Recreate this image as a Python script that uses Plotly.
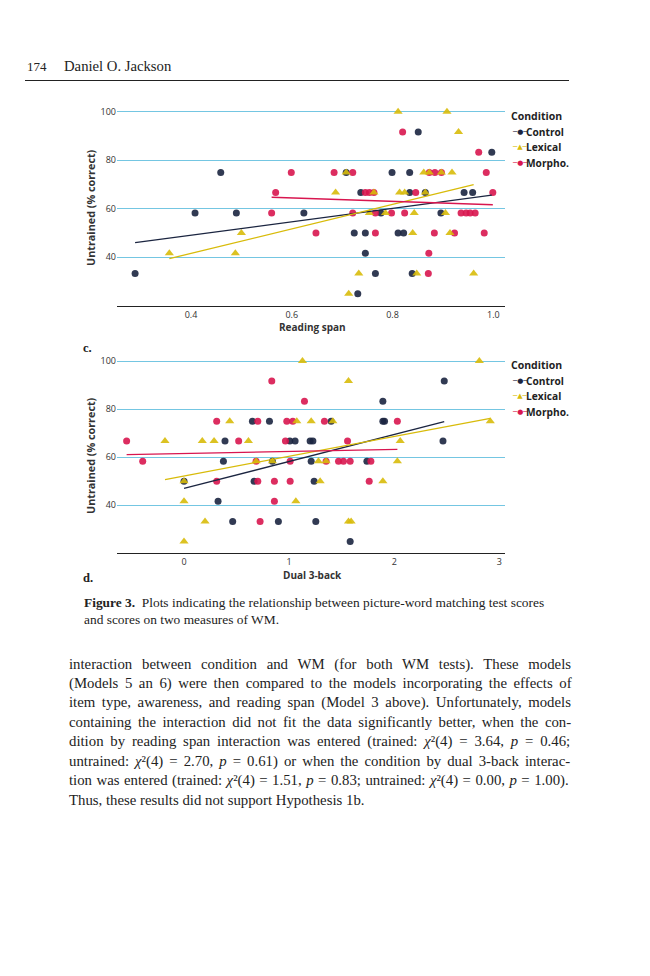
import numpy as np
import plotly.graph_objects as go

# browser adds an 8px body margin; figure is sized/offset to compensate
OFF = 8
W, H = 634, 960

# ---------------- data: panel c (Reading span) ----------------
c_control_x = [0.289, 0.408, 0.459, 0.490, 0.624, 0.708, 0.799, 0.834, 0.851, 0.997, 0.737, 0.834, 0.865,
               0.942, 0.959, 0.777, 0.896, 0.724, 0.746, 0.811, 0.822, 0.746, 0.766, 0.839, 0.731]
c_control_y = [33.3, 58.3, 75, 58.3, 58.3, 75, 75, 75, 91.7, 83.3, 66.7, 66.7, 66.7,
               66.7, 66.7, 58.3, 58.3, 50, 50, 50, 50, 41.7, 33.3, 33.3, 25]
c_lexical_x = [0.357, 0.488, 0.500, 0.811, 0.908, 0.931, 0.708, 0.862, 0.873, 0.897, 0.918, 0.687, 0.763,
               0.814, 0.824, 0.865, 0.754, 0.786, 0.843, 0.905, 0.840, 0.914, 0.733, 0.848, 0.961, 0.713]
c_lexical_y = [41.7, 41.7, 50, 100, 100, 91.7, 75, 75, 75, 75, 75, 66.7, 66.7,
               66.7, 66.7, 66.7, 58.3, 58.3, 58.3, 58.3, 50, 50, 33.3, 33.3, 33.3, 25]
c_morpho_x = [0.560, 0.568, 0.599, 0.820, 0.971, 0.684, 0.721, 0.873, 0.884, 0.897, 0.986, 0.746, 0.754,
              0.763, 0.846, 0.999, 0.721, 0.766, 0.798, 0.824, 0.936, 0.946, 0.954, 0.964, 0.648, 0.766,
              0.883, 0.923, 0.982, 0.872, 0.871]
c_morpho_y = [58.3, 66.7, 75, 91.7, 83.3, 75, 75, 75, 75, 75, 75, 66.7, 66.7,
              66.7, 66.7, 66.7, 58.3, 58.3, 58.3, 58.3, 58.3, 58.3, 58.3, 58.3, 50, 50,
              50, 50, 50, 41.7, 33.3]

# ---------------- data: panel d (Dual 3-back) ----------------
d_control_x = [0.0, 0.39, 0.375, 0.324, 0.463, 0.651, 0.813, 0.667, 0.841, 0.898, 1.007, 1.057, 1.20,
               1.226, 1.21, 1.238, 1.254, 1.40, 1.581, 1.74, 1.892, 1.892, 1.908, 2.476, 2.464]
d_control_y = [50, 66.7, 58.3, 41.7, 33.3, 75, 75, 50, 58.3, 33.3, 66.7, 66.7, 66.7,
               66.7, 58.3, 50, 33.3, 75, 25, 58.3, 83.3, 75, 75, 91.7, 66.7]
d_lexical_x = [-0.181, 0.0, 0.0, 0.0, 0.2, 0.174, 0.286, 0.435, 0.613, 0.686, 0.841, 1.064, 1.073,
               1.21, 1.416, 1.127, 1.279, 1.352, 1.295, 1.565, 1.565, 1.59, 1.892, 2.03, 2.057, 2.81, 2.914]
d_lexical_y = [66.7, 50, 41.7, 25, 33.3, 66.7, 66.7, 75, 66.7, 58.3, 58.3, 41.7, 75,
               75, 75, 100, 58.3, 58.3, 50, 91.7, 33.3, 33.3, 50, 58.3, 66.7, 100, 75]
d_morpho_x = [-0.546, -0.393, 0.311, 0.311, 0.52, 0.686, 0.702, 0.702, 0.724, 0.835, 0.86, 0.86, 0.978,
              1.035, 0.965, 1.01, 1.01, 1.146, 1.336, 1.352, 1.47, 1.517, 1.581, 1.556, 1.762, 1.778, 2.03]
d_morpho_y = [66.7, 58.3, 75, 50, 66.7, 58.3, 75, 50, 33.3, 91.7, 50, 41.7, 75,
              75, 66.7, 58.3, 50, 83.3, 75, 58.3, 58.3, 58.3, 58.3, 66.7, 50, 58.3, 75]

conditions = ["Control", "Lexical", "Morpho."]
y_ticks = [40, 60, 80, 100]
c_ticks = [0.4, 0.6, 0.8, 1.0]
c_ticktext = ["0.4", "0.6", "0.8", "1.0"]
d_ticks = [0, 1, 2, 3]

NAVY = "#1b2540"
YEL = "#d8bb0a"
RED = "#d8164f"
GRID = "#74c6e2"
colors = {"Control": NAVY, "Lexical": YEL, "Morpho.": RED}
symbols = {"Control": "circle", "Lexical": "triangle-up", "Morpho.": "circle"}
sizes = {"Control": 7, "Lexical": 8, "Morpho.": 7}

panels = {
    "c": {"Control": (c_control_x, c_control_y), "Lexical": (c_lexical_x, c_lexical_y),
          "Morpho.": (c_morpho_x, c_morpho_y)},
    "d": {"Control": (d_control_x, d_control_y), "Lexical": (d_lexical_x, d_lexical_y),
          "Morpho.": (d_morpho_x, d_morpho_y)},
}

def px(x):
    return (x - OFF) / W

def py(y):
    return 1 - (y - OFF) / H

fig = go.Figure()
axmap = {"c": ("x", "y"), "d": ("x2", "y2")}
order = ["Control", "Morpho.", "Lexical"]
for p, groups in panels.items():
    xa, ya = axmap[p]
    for cond in order:
        xs, ys = groups[cond]
        fig.add_trace(go.Scatter(
            x=xs, y=ys, mode="markers", xaxis=xa, yaxis=ya, showlegend=False,
            marker=dict(color=colors[cond], symbol=symbols[cond], size=sizes[cond],
                        opacity=0.9, line=dict(width=0)),
            hoverinfo="skip"))
    for cond in ["Control", "Lexical", "Morpho."]:
        xs, ys = groups[cond]
        xs_a = np.array(xs, float)
        ys_a = np.array(ys, float)
        b, a = np.polyfit(xs_a, ys_a, 1)
        xl = np.array([xs_a.min(), xs_a.max()])
        fig.add_trace(go.Scatter(
            x=xl, y=a + b * xl, mode="lines", xaxis=xa, yaxis=ya, showlegend=False,
            line=dict(color=colors[cond], width=1.3), hoverinfo="skip"))

tickfont = dict(family="Open Sans, Lato, sans-serif", size=9, color="#333333")
yaxis_common = dict(range=[20, 102.5], tickvals=y_ticks, showgrid=True, gridcolor=GRID, gridwidth=1,
                    zeroline=False, showline=False, ticks="", tickfont=tickfont, fixedrange=True)
xaxis_common = dict(showgrid=False, zeroline=False, showline=True, linecolor="#222222", linewidth=1,
                    ticks="", tickfont=tickfont, fixedrange=True)

fig.update_layout(
    width=W, height=H, margin=dict(l=0, r=0, t=0, b=0),
    paper_bgcolor="white", plot_bgcolor="white",
    xaxis=dict(domain=[px(117), px(505)], range=[0.2531, 1.0232], tickvals=c_ticks,
               ticktext=c_ticktext, anchor="y", **xaxis_common),
    yaxis=dict(domain=[py(305.8), py(105.7)], anchor="x", **yaxis_common),
    xaxis2=dict(domain=[px(117), px(505)], range=[-0.6375, 3.054], tickvals=d_ticks, anchor="y2",
                **xaxis_common),
    yaxis2=dict(domain=[py(553.4), py(355.0)], anchor="x2", **yaxis_common),
)

ann = []
sans_b = "Open Sans, Lato, sans-serif"
serif = "Liberation Serif, DejaVu Serif, serif"
INK = "#222222"

def note(x, y, text, size, family=serif, anchor="left", **kw):
    d = dict(x=px(x), y=py(y), xref="paper", yref="paper", text=text, showarrow=False,
             font=dict(family=family, size=size, color=kw.pop("color", INK)),
             xanchor=anchor, yanchor="middle")
    d.update(kw)
    ann.append(d)

# axis titles
for (yc, xt, xtitle) in [(208, 327, "Reading span"), (456, 575, "Dual 3-back")]:
    note(90, yc, "<b>Untrained (% correct)</b>", 10.8, family=sans_b, anchor="center",
         textangle=-90, color="#333333")
    note(312, xt, "<b>" + xtitle + "</b>", 10, family=sans_b, anchor="center", color="#333333")

# panel letters
for (yc, lab) in [(348, "c."), (578, "d.")]:
    note(81, yc, "<b>" + lab + "</b>", 12.5)

# legends
icons = {"Control": "─●─", "Lexical": "─▲─", "Morpho.": "─●─"}
for y0 in [116, 365]:
    note(509, y0, "<b>Condition</b>", 10.5, family=sans_b)
    for i, cond in enumerate(conditions):
        yy = y0 + 16 + i * 15.3
        note(510, yy, icons[cond], 7, family="DejaVu Sans", color=colors[cond])
        note(524, yy, "<b>" + cond + "</b>", 10.2, family=sans_b)

# header
note(25, 66, "174", 13)
note(62, 66, "Daniel O. Jackson", 14.7)
note(82, 602, "<b>Figure 3.</b>  Plots indicating the relationship between picture-word matching test scores", 13.4)
note(82, 619, "and scores on two measures of WM.", 13.4)

# body paragraph, justified via word-spacing using Times metrics
TW = {' ': 250, '(': 333, ')': 333, ',': 250, '-': 333, '.': 250, ':': 278, ';': 278, '=': 564,
      'A': 722, 'H': 722, 'M': 889, 'T': 611, 'U': 722, 'W': 944, 'χ': 550, '²': 300}
TW.update({d: 500 for d in "0123456789"})
TW.update(dict(zip("abcdefghijklmnopqrstuvwxyz",
                   [444, 500, 444, 500, 444, 333, 500, 500, 278, 278, 500, 278, 778, 500, 500, 500,
                    500, 333, 389, 278, 500, 500, 722, 500, 500, 444])))

def text_width(plain, size):
    return sum(TW.get(ch, 500) for ch in plain) * size / 1000.0

BODY_SIZE = 14.8
ITAL = '<span style="font-style:italic;font-size:%.1fpx">%%s</span>' % BODY_SIZE
chi = (ITAL % "χ") + "²(4)"
pp = ITAL % "p"
body = [
    "interaction between condition and WM (for both WM tests). These models",
    "(Models 5 an 6) were then compared to the models incorporating the effects of",
    "item type, awareness, and reading span (Model 3 above). Unfortunately, models",
    "containing the interaction did not fit the data significantly better, when the con-",
    "dition by reading span interaction was entered (trained: CHI = 3.64, PP = 0.46;",
    "untrained: CHI = 2.70, PP = 0.61) or when the condition by dual 3-back interac-",
    "tion was entered (trained: CHI = 1.51, PP = 0.83; untrained: CHI = 0.00, PP = 1.00).",
    "Thus, these results did not support Hypothesis 1b.",
]
LEFT, RIGHT = 67, 570
for i, line in enumerate(body):
    plain = line.replace("CHI", "χ²(4)").replace("PP", "p")
    html = line.replace("CHI", chi).replace("PP", pp)
    if i < len(body) - 1:
        nat = text_width(plain, BODY_SIZE)
        gaps = plain.count(" ")
        ws = (RIGHT - LEFT - nat) / gaps
        html = '<span style="word-spacing:%.2fpx;font-size:%.1fpx">%s</span>' % (ws, BODY_SIZE, html)
    note(LEFT, 664 + i * 19.45, html, BODY_SIZE)

fig.update_layout(annotations=ann,
                  shapes=[dict(type="line", xref="paper", yref="paper", x0=px(25), x1=px(569),
                               y0=py(80.5), y1=py(80.5), line=dict(color=INK, width=1))])

fig.write_html("out.html")
